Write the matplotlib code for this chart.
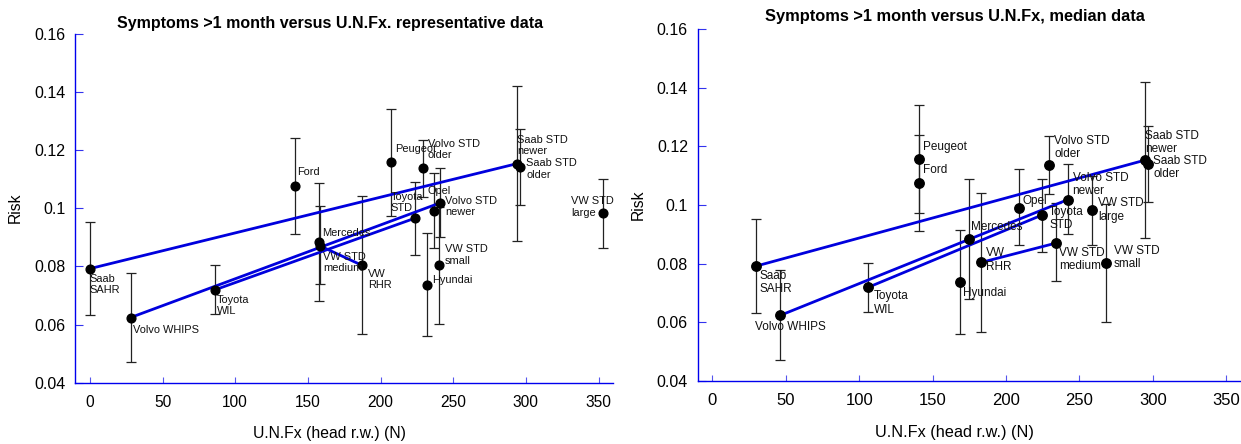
import matplotlib
matplotlib.use('Agg')
import matplotlib.pyplot as plt

matplotlib.rcParams['font.family'] = ['Liberation Sans', 'DejaVu Sans']

# data (risk is the same in both panels, only U.N.Fx changes)
car_names = ['Saab\nSAHR', 'Volvo WHIPS', 'Toyota\nWIL', 'Ford', 'Mercedes', 'VW STD\nmedium',
             'VW\nRHR', 'Peugeot', 'Toyota\nSTD', 'Volvo STD\nolder', 'Hyundai', 'Opel',
             'VW STD\nsmall', 'Volvo STD\nnewer', 'Saab STD\nnewer', 'Saab STD\nolder', 'VW STD\nlarge']
risk = [0.0792, 0.0624, 0.0719, 0.1076, 0.0884, 0.0870, 0.0804, 0.1157, 0.0966, 0.1137,
        0.0737, 0.0991, 0.0803, 0.1018, 0.1153, 0.1140, 0.0982]
risk_hi = [0.0953, 0.0778, 0.0803, 0.1240, 0.1088, 0.1008, 0.1042, 0.1340, 0.1090, 0.1235,
           0.0916, 0.1122, 0.1003, 0.1139, 0.1421, 0.1271, 0.1100]
risk_lo = [0.0632, 0.0471, 0.0636, 0.0912, 0.0680, 0.0740, 0.0568, 0.0973, 0.0840, 0.1038,
           0.0561, 0.0864, 0.0602, 0.0901, 0.0887, 0.1011, 0.0863]
unfx_repr = [0, 28, 86, 141, 158, 158.5, 187, 207, 224, 229, 232, 237, 240, 241, 294, 296, 353]
unfx_median = [30, 46.4, 106, 140.7, 175, 234, 183, 140.7, 224.7, 229.5, 168.4, 209, 268, 242,
               294.8, 297, 258.6]
# retrofit system -> standard seat of the same make
pairs = [(0, 14), (1, 13), (2, 8), (6, 5)]

# label offsets in pixels (dx right, dy down to the cap top)
offs_repr = [(0, 7), (2, 9), (2, 7), (2, -17), (3, -12), (3, 8), (6, 6), (4, -16), (-25, -24),
             (5, -27), (5, -8), (-7, -23), (6, -19), (5, -5), (0, -27), (6, -7), (-32, -15)]
offs_median = [(3, 6), (-25, 8), (6, 5), (4, -17), (2, -16), (3, 6), (5, -13), (4, -16), (7, -7),
               (5, -28), (3, 7), (3, -11), (8, -16), (5, -26), (0, -28), (5, -7), (6, -11)]

BLUE = '#0000dd'
fig = plt.figure(figsize=(12.41, 4.44), dpi=100)


def panel(rect, xs, offs, title, msize, fs, xlab_y, tpad):
    ax = fig.add_axes(rect)
    yerr = [[r - lo for r, lo in zip(risk, risk_lo)], [hi - r for r, hi in zip(risk, risk_hi)]]
    ax.errorbar(xs, risk, yerr=yerr, fmt='none', ecolor='#222222', elinewidth=0.9,
                capsize=3.5, capthick=0.9, zorder=2)
    for a, b in pairs:
        ax.plot([xs[a], xs[b]], [risk[a], risk[b]], color=BLUE, lw=2.0, zorder=3)
    ax.plot(xs, risk, 'o', color='black', markersize=msize, zorder=4)
    for i in range(len(xs)):
        dx, dy = offs[i]
        ax.annotate(car_names[i], (xs[i], risk[i]), xytext=(dx, -(dy - 2)),
                    textcoords='offset pixels', ha='left', va='top', fontsize=fs[0],
                    color='#111111', linespacing=1.15, zorder=5)
    ax.set_xlim(-10, 360)
    ax.set_ylim(0.04, 0.16)
    ax.set_xticks([0, 50, 100, 150, 200, 250, 300, 350])
    ax.set_yticks([0.04, 0.06, 0.08, 0.1, 0.12, 0.14, 0.16])
    ax.set_yticklabels(['0.04', '0.06', '0.08', '0.1', '0.12', '0.14', '0.16'])
    for spine in ['right', 'top']:
        ax.spines[spine].set_visible(False)
    for spine in ['left', 'bottom']:
        ax.spines[spine].set_color('#0000ee')
        ax.spines[spine].set_linewidth(1.0)
    ax.tick_params(axis='y', direction='in', length=6, color='#3333ee', labelsize=11.5, pad=7)
    ax.tick_params(axis='x', direction='in', length=4.5, color='#5555ee', labelsize=fs[1], pad=9)
    ax.set_xlabel('U.N.Fx (head r.w.) (N)', fontsize=fs[2], va='top')
    ax.xaxis.set_label_coords(0.473, xlab_y)
    ax.set_ylabel('Risk', fontsize=11.3, labelpad=8)
    ax.set_title(title, fontsize=fs[3], fontweight='bold', x=0.473, pad=tpad)
    return ax


panel([0.0607, 0.138, 0.4333, 0.7865], unfx_repr, offs_repr,
      'Symptoms >1 month versus U.N.Fx. representative data', 6.3,
      (7.9, 11.2, 11.3, 11.5), -0.1226, 4.3)
panel([0.5622, 0.1419, 0.4376, 0.7928], unfx_median, offs_median,
      'Symptoms >1 month versus U.N.Fx, median data', 6.8,
      (8.5, 12.0, 11.7, 11.8), -0.126, 5.8)

plt.savefig('out.png', dpi=100)
plt.close()
